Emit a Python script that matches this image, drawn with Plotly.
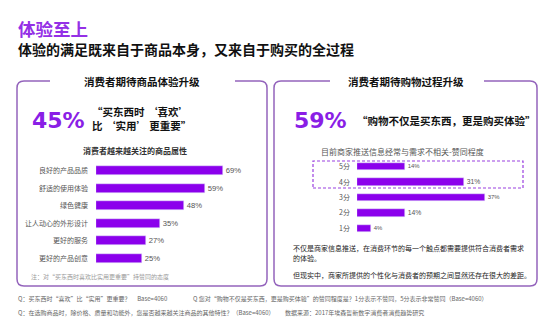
import plotly.graph_objects as go

W, H = 559, 336
FONT = "Noto Sans CJK SC"
NUMFONT = "Liberation Sans, Arial, sans-serif"
BIGFONT = "DejaVu Sans"
PURPLE = "#8B00EC"
BORDER = "#9464BC"

# ---- data ----
attr_labels = ["良好的产品品质", "舒适的使用体验", "绿色健康", "让人动心的外形设计", "更好的服务", "更好的产品创意"]
attr_values = [69, 59, 48, 35, 27, 25]

score_labels = ["5分", "4分", "3分", "2分", "1分"]
score_values = [14, 31, 37, 14, 4]

big_left = "45%"
big_right = "59%"


def px(x):
    return x / W


def py(y):
    return 1 - y / H


fig = go.Figure()

fig.add_trace(go.Bar(
    x=attr_values, y=attr_labels, orientation="h",
    marker_color=PURPLE, width=0.5,
    text=[f"{v}%" for v in attr_values], textposition="outside",
    textfont=dict(size=8.5, color="#555", family=NUMFONT),
    cliponaxis=False, xaxis="x", yaxis="y", showlegend=False,
))
fig.add_trace(go.Bar(
    x=score_values, y=score_labels, orientation="h",
    marker_color=PURPLE, width=0.48,
    text=[f"{v}%" for v in score_values], textposition="outside",
    textfont=dict(size=8.5, color="#555", family=NUMFONT),
    cliponaxis=False, xaxis="x2", yaxis="y2", showlegend=False,
))

axis_common = dict(showgrid=False, zeroline=False, showline=False, ticks="")
fig.update_layout(
    width=W, height=H,
    margin=dict(l=0, r=0, t=0, b=0),
    paper_bgcolor="white", plot_bgcolor="rgba(0,0,0,0)",
    font=dict(family=FONT),
    bargap=0,
    xaxis=dict(domain=[px(96), px(96 + 1.84 * 80)], range=[0, 80], showticklabels=False, **axis_common),
    yaxis=dict(domain=[py(267), py(162)], type="category", categoryorder="array",
               categoryarray=attr_labels, range=[len(attr_labels) - 0.5, -0.5],
               tickfont=dict(size=7, color="#555", family=FONT), ticklabelstandoff=7, **axis_common),
    xaxis2=dict(domain=[px(357), px(357 + 3.45 * 45)], range=[0, 45], showticklabels=False,
                anchor="y2", **axis_common),
    yaxis2=dict(domain=[py(236), py(159)], type="category", categoryorder="array",
                categoryarray=score_labels, range=[len(score_labels) - 0.5, -0.5],
                tickfont=dict(size=7, color="#555", family=FONT), ticklabelstandoff=6,
                anchor="x2", **axis_common),
)


def rounded_box(x0, y0, x1, y1, r, gap0, gap1):
    rx, ry = r / W, r / H
    X0, X1 = px(x0), px(x1)
    Y0, Y1 = py(y0), py(y1)  # Y0 top, Y1 bottom
    G0, G1 = px(gap0), px(gap1)
    path = (f"M {G1},{Y0} L {X1 - rx},{Y0} Q {X1},{Y0} {X1},{Y0 - ry} "
            f"L {X1},{Y1 + ry} Q {X1},{Y1} {X1 - rx},{Y1} "
            f"L {X0 + rx},{Y1} Q {X0},{Y1} {X0},{Y1 + ry} "
            f"L {X0},{Y0 - ry} Q {X0},{Y0} {X0 + rx},{Y0} L {G0},{Y0}")
    return dict(type="path", path=path, xref="paper", yref="paper",
                line=dict(color=BORDER, width=1.5))


shapes = [
    rounded_box(17, 81, 267, 286, 7, 50, 235),
    rounded_box(274, 81, 537, 286, 7, 330, 484),
    dict(type="rect", xref="paper", yref="paper", x0=px(313), x1=px(523), y0=py(188), y1=py(161),
         line=dict(color="#9A40E0", width=1.2, dash="3px,2px")),
]
fig.update_layout(shapes=shapes)


def note(x, y, text, size, color="#222", anchor="left", bold=False, family=FONT):
    fig.add_annotation(x=px(x), y=py(y), xref="paper", yref="paper", text=text,
                       showarrow=False, xanchor=anchor, yanchor="middle", borderpad=0,
                       font=dict(size=size, color=color, family=family,
                                 weight=700 if bold else 400))


note(17, 28.5, "体验至上", 17.5, "#9430E6", bold=True)
note(17, 49, "体验的满足既来自于商品本身，又来自于购买的全过程", 14, "#111", bold=True)

note(142, 81, "消费者期待商品体验升级", 10.5, "#111", anchor="center", bold=True)
note(406, 81, "消费者期待购物过程升级", 10.5, "#111", anchor="center", bold=True)

note(31, 120, big_left, 22, "#8A1EE6", bold=True, family=BIGFONT)
note(91, 112, "“买东西时 ‘喜欢’", 10.5, "#111", bold=True)
note(91, 125, "比 ‘实用’ 更重要”", 10.5, "#111", bold=True)
note(135, 150, "消费者越来越关注的商品属性", 8, "#333", anchor="center", bold=True)
note(30, 276, "注：对“买东西时喜欢比实用更重要”持赞同的态度", 6, "#9a9a9a")

note(293, 120, big_right, 22, "#8A1EE6", bold=True, family=BIGFONT)
note(356, 120, "“购物不仅是买东西，更是购买体验”", 10.5, "#111", bold=True)
note(402, 151, "目前商家推送信息经常与需求不相关-赞同程度", 8, "#555", anchor="center")
note(292, 248, "不仅是商家信息推送，在消费环节的每一个触点都需要提供符合消费者需求", 7, "#222")
note(292, 258, "的体验。", 7, "#222")
note(292, 275, "但现实中，商家所提供的个性化与消费者的预期之间显然还存在很大的差距。", 7, "#222")

note(17, 298, "Q：买东西时“喜欢”比“实用”更重要？&nbsp;&nbsp;&nbsp;&nbsp;&nbsp;Base=4060", 6, "#666")
note(192, 298, "Q 您对“购物不仅是买东西，更是购买体验”的赞同程度是？1分表示不赞同，5分表示非常赞同（Base=4060）", 6, "#666")
note(17, 312, "Q：在选购商品时，除价格、质量和功能外，您是否越来越关注商品的其他特性？（Base=4060）", 6, "#666")
note(284, 312, "数据来源：2017年埃森哲新数字消费者消费趋势研究", 6, "#666")

fig.write_html("out.html")
